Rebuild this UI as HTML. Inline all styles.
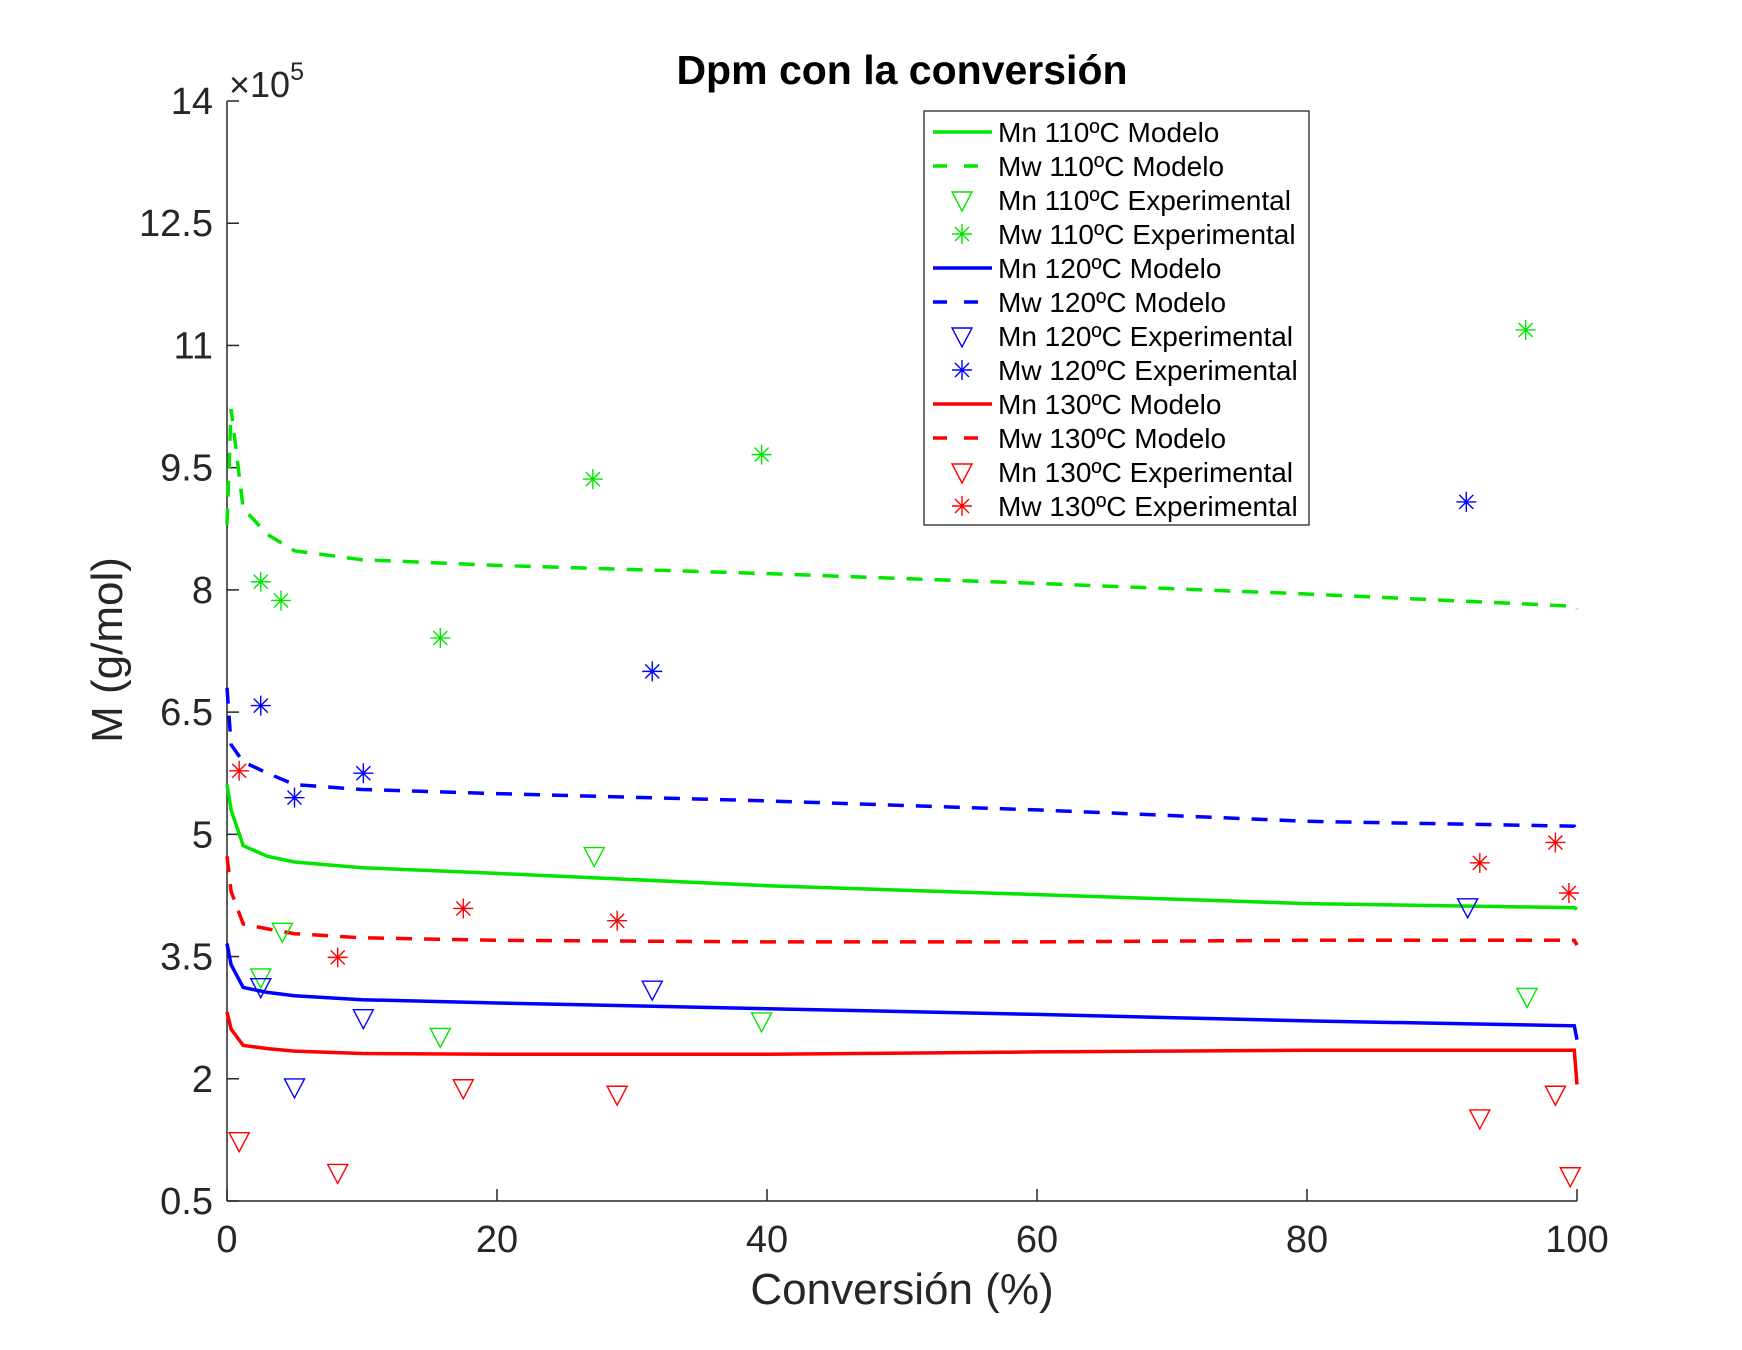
<!DOCTYPE html>
<html><head><meta charset="utf-8"><style>
html,body{margin:0;padding:0;background:#fff;}
svg{display:block;font-family:"Liberation Sans",Arial,sans-serif;}
</style></head><body>
<svg id="chart" width="1742" height="1350" viewBox="0 0 1742 1350" xmlns="http://www.w3.org/2000/svg">
<rect width="1742" height="1350" fill="#fff"/>
<text x="902" y="84" text-anchor="middle" font-size="41" font-weight="bold" fill="#000">Dpm con la conversión</text>
<text transform="translate(122,650) rotate(-90)" text-anchor="middle" font-size="44" fill="#262626">M (g/mol)</text>
<text x="902" y="1304" text-anchor="middle" font-size="44" fill="#262626">Conversión (%)</text>
<text x="229" y="97" font-size="36" fill="#262626">×10<tspan font-size="25" dy="-17">5</tspan></text>
<g id="axes"></g>
<g id="series"></g>
<g id="legend"></g>
</svg>
<script>
const xTicks=[0,20,40,60,80,100];
const yTicks=[0.5,2,3.5,5,6.5,8,9.5,11,12.5,14];
const yTickLabels=["0.5","2","3.5","5","6.5","8","9.5","11","12.5","14"];
// model curves
const modelX=[0,0.3,1.2,3,5,10,20,40,60,80,99.8,100];
const mn110=[5.61,5.3,4.86,4.73,4.66,4.59,4.52,4.37,4.26,4.15,4.10,4.08];
const mw110=[8.8,10.22,9.0,8.68,8.48,8.37,8.3,8.2,8.08,7.95,7.8,7.76];
const mn120=[3.66,3.4,3.12,3.06,3.02,2.97,2.93,2.86,2.79,2.71,2.65,2.48];
const mw120=[6.8,6.1,5.89,5.75,5.61,5.55,5.5,5.41,5.3,5.16,5.1,5.03];
const mn130=[2.82,2.61,2.41,2.37,2.34,2.31,2.30,2.30,2.33,2.35,2.35,1.93];
const mw130=[4.73,4.3,3.9,3.84,3.78,3.73,3.70,3.68,3.68,3.70,3.70,3.64];
// experimental
const mn110ExpX=[2.5,4.1,15.8,27.2,39.6,96.3];
const mn110ExpY=[3.25,3.81,2.52,4.74,2.71,3.01];
const mw110ExpX=[2.5,4.0,15.8,27.1,39.6,96.2];
const mw110ExpY=[8.1,7.87,7.41,9.36,9.66,11.19];
const mn120ExpX=[2.5,5.0,10.1,31.5,91.9];
const mn120ExpY=[3.13,1.90,2.75,3.10,4.11];
const mw120ExpX=[2.5,5.0,10.1,31.5,91.8];
const mw120ExpY=[6.58,5.45,5.75,7.0,9.08];
const mn130ExpX=[0.9,8.2,17.5,28.9,92.8,98.4,99.5];
const mn130ExpY=[1.24,0.85,1.89,1.81,1.52,1.81,0.81];
const mw130ExpX=[0.9,8.2,17.5,28.9,92.8,98.4,99.4];
const mw130ExpY=[5.78,3.49,4.09,3.94,4.65,4.90,4.28];

const NS="http://www.w3.org/2000/svg";
const L=227,R=1577,T=101,B=1201;
const sx=v=>L+(v-0)/(100)*(R-L);
const sy=v=>B-(v-0.5)/(14-0.5)*(B-T);
function mk(tag,attrs,parent){const e=document.createElementNS(NS,tag);for(const k in attrs)e.setAttribute(k,attrs[k]);parent.appendChild(e);return e;}
const axes=document.getElementById('axes');
const ser=document.getElementById('series');
const leg=document.getElementById('legend');
let a=mk('line',{x1:L,y1:B,x2:R,y2:B,stroke:'#262626','stroke-width':1.5},axes);


a=mk('line',{x1:L,y1:B,x2:L,y2:T,stroke:'#262626','stroke-width':1.5},axes);


xTicks.forEach(t=>{
  const x=sx(t);
  const tk=mk('line',{x1:x,y1:B,x2:x,y2:B-12,stroke:'#262626','stroke-width':1.5},axes);
  
  
  const tl=mk('text',{x:x,y:B+51,'text-anchor':'middle','font-size':38,fill:'#262626'},axes);
  tl.textContent=t;
  
  
});
yTicks.forEach((t,i)=>{
  const y=sy(t);
  const tk=mk('line',{x1:L,y1:y,x2:L+12,y2:y,stroke:'#262626','stroke-width':1.5},axes);
  
  
  const tl=mk('text',{x:213,y:y+13,'text-anchor':'end','font-size':38,fill:'#262626'},axes);
  tl.textContent=yTickLabels[i];
  
  
});
const G='#00e600',BL='#0000ff',RD='#ff0000';
function line(ys,color,dash,name){
  const d=modelX.map((x,i)=>(i?'L':'M')+sx(x).toFixed(1)+','+sy(ys[i]).toFixed(1)).join('');
  const p=mk('path',{d:d,fill:'none',stroke:color,'stroke-width':3.5,'stroke-dasharray':dash?'16 12':'none'},ser);
  
  
}
function tri(x,y,c,g){return mk('path',{d:`M${x-10},${y-8}L${x+10},${y-8}L${x},${y+11}Z`,fill:'none',stroke:c,'stroke-width':1.4},g);}
function star(x,y,c,g){const r=10;return mk('path',{d:`M${x-r},${y}L${x+r},${y}M${x},${y-r}L${x},${y+r}M${x-7},${y-7}L${x+7},${y+7}M${x-7},${y+7}L${x+7},${y-7}`,fill:'none',stroke:c,'stroke-width':1.4},g);}
function pts(xs,ys,c,kind,name){
  xs.forEach((x,i)=>{
    const m=(kind==='tri'?tri:star)(sx(x),sy(ys[i]),c,ser);
    
    
  });
}
line(mw110,G,true,'mw-110-model');
line(mn110,G,false,'mn-110-model');
line(mw120,BL,true,'mw-120-model');
line(mn120,BL,false,'mn-120-model');
line(mw130,RD,true,'mw-130-model');
line(mn130,RD,false,'mn-130-model');
pts(mn110ExpX,mn110ExpY,G,'tri','mn-110-exp-point');
pts(mw110ExpX,mw110ExpY,G,'star','mw-110-exp-point');
pts(mn120ExpX,mn120ExpY,BL,'tri','mn-120-exp-point');
pts(mw120ExpX,mw120ExpY,BL,'star','mw-120-exp-point');
pts(mn130ExpX,mn130ExpY,RD,'tri','mn-130-exp-point');
pts(mw130ExpX,mw130ExpY,RD,'star','mw-130-exp-point');
// legend
const lb=mk('rect',{x:924,y:111,width:385,height:414,fill:'#fff',stroke:'#262626','stroke-width':1.3},leg);


const entries=[["Mn 110ºC Modelo",G,'solid'],["Mw 110ºC Modelo",G,'dash'],["Mn 110ºC Experimental",G,'tri'],["Mw 110ºC Experimental",G,'star'],
["Mn 120ºC Modelo",BL,'solid'],["Mw 120ºC Modelo",BL,'dash'],["Mn 120ºC Experimental",BL,'tri'],["Mw 120ºC Experimental",BL,'star'],
["Mn 130ºC Modelo",RD,'solid'],["Mw 130ºC Modelo",RD,'dash'],["Mn 130ºC Experimental",RD,'tri'],["Mw 130ºC Experimental",RD,'star']];
entries.forEach((e,i)=>{
  const y=132+i*34;
  const g=mk('g',{},leg);
  
  
  if(e[2]==='solid')mk('line',{x1:933,y1:y,x2:992,y2:y,stroke:e[1],'stroke-width':3.5},g);
  else if(e[2]==='dash')mk('line',{x1:933,y1:y,x2:992,y2:y,stroke:e[1],'stroke-width':3.5,'stroke-dasharray':'14 17'},g);
  else if(e[2]==='tri')tri(962,y,e[1],g);
  else star(962,y,e[1],g);
  const t=mk('text',{x:998,y:y+10,'font-size':28,fill:'#000'},g);
  t.textContent=e[0];
});
</script>
</body></html>
